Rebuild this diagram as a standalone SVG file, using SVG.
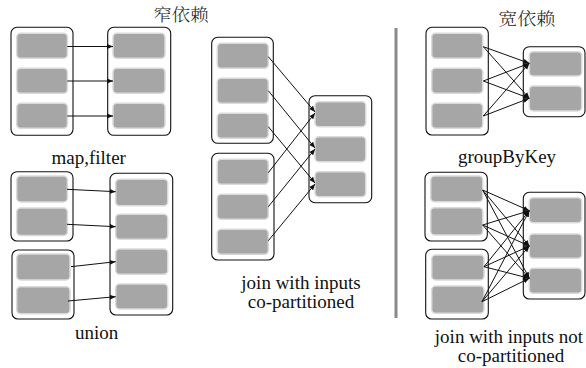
<svg xmlns="http://www.w3.org/2000/svg" width="586" height="368" viewBox="0 0 586 368">
  <style>
    .rdd { fill: #ffffff; stroke: #111111; stroke-width: 1.1; }
    .part { fill: #a6a6a6; stroke: #dadada; stroke-width: 1.5; }
    .dep { stroke: #111111; stroke-width: 1; fill: none; marker-end: url(#arrow); }
    .lbl { font-family: "Liberation Serif", "Times New Roman", serif; font-size: 19px; font-weight: 400; fill: #111111; text-anchor: middle; }
    .title { font-family: "Noto Serif CJK SC", "Noto Sans CJK SC", serif; font-size: 17px; font-weight: 300; fill: #222222; text-anchor: middle; }
  </style>
  <defs>
    <marker id="arrow" markerUnits="userSpaceOnUse" markerWidth="7" markerHeight="6" refX="6" refY="3" orient="auto">
      <path d="M0,0.5 L6,3 L0,5.5 z" fill="#111111"/>
    </marker>
  </defs>

  <rect width="586" height="368" fill="#ffffff"/>

  <!-- headings -->
  <text class="title" x="181" y="21" textLength="55" lengthAdjust="spacingAndGlyphs">窄依赖</text>
  <text class="title" x="526.7" y="25" textLength="57" lengthAdjust="spacingAndGlyphs">宽依赖</text>

  <!-- separator between narrow and wide dependencies -->
  <line x1="396" y1="28" x2="396" y2="318" stroke="#8a8a8a" stroke-width="3"/>

  <!-- map,filter -->
  <g id="map-parent">
    <rect class="rdd" x="11" y="27.3" width="62" height="108" rx="6"/>
    <rect class="part" x="16.7" y="33.3" width="50.7" height="25" rx="4"/>
    <rect class="part" x="16.7" y="68.3" width="50.7" height="25" rx="4"/>
    <rect class="part" x="16.7" y="103.3" width="50.7" height="25" rx="4"/>
  </g>
  <g id="map-child">
    <rect class="rdd" x="107.7" y="27.3" width="63" height="108" rx="6"/>
    <rect class="part" x="113" y="33.3" width="52" height="25" rx="4"/>
    <rect class="part" x="113" y="68.3" width="52" height="25" rx="4"/>
    <rect class="part" x="113" y="103.3" width="52" height="25" rx="4"/>
  </g>

  <!-- union -->
  <g id="union-parent-a">
    <rect class="rdd" x="11" y="171.7" width="62" height="69.3" rx="6"/>
    <rect class="part" x="16.7" y="176" width="50.7" height="26" rx="4"/>
    <rect class="part" x="16.7" y="208" width="50.7" height="27.5" rx="4"/>
  </g>
  <g id="union-parent-b">
    <rect class="rdd" x="12" y="250" width="62" height="69" rx="6"/>
    <rect class="part" x="16.7" y="254" width="53.3" height="26" rx="4"/>
    <rect class="part" x="16.7" y="286.7" width="53.3" height="27" rx="4"/>
  </g>
  <g id="union-child">
    <rect class="rdd" x="110" y="173.3" width="62.7" height="141.7" rx="6"/>
    <rect class="part" x="115.7" y="179.3" width="52" height="26.5" rx="4"/>
    <rect class="part" x="115.7" y="214.3" width="52" height="25" rx="4"/>
    <rect class="part" x="115.7" y="249" width="52" height="25.3" rx="4"/>
    <rect class="part" x="115.7" y="284" width="52" height="25" rx="4"/>
  </g>

  <!-- join with inputs co-partitioned -->
  <g id="join-parent-a">
    <rect class="rdd" x="211.7" y="37.3" width="61.6" height="106" rx="6"/>
    <rect class="part" x="217.3" y="43.3" width="51" height="25" rx="4"/>
    <rect class="part" x="217.3" y="78.3" width="51" height="25" rx="4"/>
    <rect class="part" x="217.3" y="113.3" width="51" height="25" rx="4"/>
  </g>
  <g id="join-parent-b">
    <rect class="rdd" x="211.7" y="153.3" width="62.3" height="106.7" rx="6"/>
    <rect class="part" x="217.3" y="159.3" width="51" height="25" rx="4"/>
    <rect class="part" x="217.3" y="194.3" width="51" height="25" rx="4"/>
    <rect class="part" x="217.3" y="229.3" width="51" height="25" rx="4"/>
  </g>
  <g id="join-child">
    <rect class="rdd" x="309" y="95.7" width="62.7" height="107" rx="6"/>
    <rect class="part" x="315" y="101.7" width="50.7" height="25" rx="4"/>
    <rect class="part" x="315" y="136.7" width="50.7" height="25" rx="4"/>
    <rect class="part" x="315" y="171.7" width="50.7" height="25" rx="4"/>
  </g>

  <!-- groupByKey -->
  <g id="group-parent">
    <rect class="rdd" x="426" y="27.3" width="62.3" height="107.7" rx="6"/>
    <rect class="part" x="431.7" y="33.3" width="51" height="25" rx="4"/>
    <rect class="part" x="431.7" y="68.3" width="51" height="25" rx="4"/>
    <rect class="part" x="431.7" y="103.3" width="51" height="25" rx="4"/>
  </g>
  <g id="group-child">
    <rect class="rdd" x="523.3" y="46.7" width="61.7" height="70" rx="6"/>
    <rect class="part" x="529.3" y="51.7" width="52.4" height="24.3" rx="4"/>
    <rect class="part" x="529.3" y="86" width="52.4" height="25" rx="4"/>
  </g>

  <!-- join with inputs not co-partitioned -->
  <g id="shuffle-parent-a">
    <rect class="rdd" x="425" y="172.3" width="62.3" height="68.7" rx="6"/>
    <rect class="part" x="430.7" y="176" width="52" height="25.7" rx="4"/>
    <rect class="part" x="430.7" y="207.7" width="52" height="27.3" rx="4"/>
  </g>
  <g id="shuffle-parent-b">
    <rect class="rdd" x="425.7" y="249.3" width="62.6" height="69.7" rx="6"/>
    <rect class="part" x="431.7" y="255" width="52.3" height="25" rx="4"/>
    <rect class="part" x="431.7" y="286" width="52.3" height="27.3" rx="4"/>
  </g>
  <g id="shuffle-child">
    <rect class="rdd" x="523.3" y="192.3" width="61.7" height="106.7" rx="6"/>
    <rect class="part" x="529.3" y="197.7" width="52.4" height="25" rx="4"/>
    <rect class="part" x="529.3" y="234" width="52.4" height="24.3" rx="4"/>
    <rect class="part" x="529.3" y="268.3" width="52.4" height="25" rx="4"/>
  </g>

  <!-- captions -->
  <text class="lbl" x="88.7" y="164">map,filter</text>
  <text class="lbl" x="96.7" y="339">union</text>
  <text class="lbl" x="301" y="289">join with inputs</text>
  <text class="lbl" x="301" y="308">co-partitioned</text>
  <text class="lbl" x="507" y="162.5">groupByKey</text>
  <text class="lbl" x="509" y="343">join with inputs not</text>
  <text class="lbl" x="511" y="362">co-partitioned</text>

  <!-- dependency arrows -->
  <g id="connectors">
    <!-- map,filter: one-to-one -->
    <line class="dep" x1="67.3" y1="46.5" x2="113" y2="46.5"/>
    <line class="dep" x1="67.3" y1="81" x2="113" y2="81"/>
    <line class="dep" x1="67.3" y1="116" x2="113" y2="116"/>
    <!-- union -->
    <line class="dep" x1="67" y1="189.3" x2="115.7" y2="191.7"/>
    <line class="dep" x1="67" y1="224.3" x2="115.7" y2="226.7"/>
    <line class="dep" x1="71" y1="266.7" x2="115.7" y2="261.7"/>
    <line class="dep" x1="68" y1="301" x2="115.7" y2="296.7"/>
    <!-- co-partitioned join -->
    <line class="dep" x1="268.3" y1="56.7" x2="315" y2="112"/>
    <line class="dep" x1="268.3" y1="90.7" x2="315" y2="148"/>
    <line class="dep" x1="268.3" y1="126.7" x2="315" y2="183"/>
    <line class="dep" x1="268.3" y1="172.7" x2="315" y2="113"/>
    <line class="dep" x1="268.3" y1="206.7" x2="315" y2="149"/>
    <line class="dep" x1="268.3" y1="240.7" x2="315" y2="184"/>
    <!-- groupByKey: all-to-all -->
    <line class="dep" x1="483.3" y1="46.7" x2="529.3" y2="63.3"/>
    <line class="dep" x1="483.3" y1="46.7" x2="529.3" y2="98.3"/>
    <line class="dep" x1="483.3" y1="81" x2="529.3" y2="63.3"/>
    <line class="dep" x1="483.3" y1="81" x2="529.3" y2="98.3"/>
    <line class="dep" x1="483.3" y1="116" x2="529.3" y2="63.3"/>
    <line class="dep" x1="483.3" y1="116" x2="529.3" y2="98.3"/>
    <!-- join, not co-partitioned: all-to-all -->
    <line class="dep" x1="482.7" y1="190" x2="529.3" y2="210.7"/>
    <line class="dep" x1="482.7" y1="190" x2="529.3" y2="246"/>
    <line class="dep" x1="482.7" y1="190" x2="529.3" y2="278.3"/>
    <line class="dep" x1="482.7" y1="225" x2="529.3" y2="210.7"/>
    <line class="dep" x1="482.7" y1="225" x2="529.3" y2="246"/>
    <line class="dep" x1="482.7" y1="225" x2="529.3" y2="278.3"/>
    <line class="dep" x1="484" y1="266.7" x2="529.3" y2="210.7"/>
    <line class="dep" x1="484" y1="266.7" x2="529.3" y2="246"/>
    <line class="dep" x1="484" y1="266.7" x2="529.3" y2="278.3"/>
    <line class="dep" x1="482" y1="301.7" x2="529.3" y2="210.7"/>
    <line class="dep" x1="482" y1="301.7" x2="529.3" y2="246"/>
    <line class="dep" x1="482" y1="301.7" x2="529.3" y2="278.3"/>
  </g>
</svg>
